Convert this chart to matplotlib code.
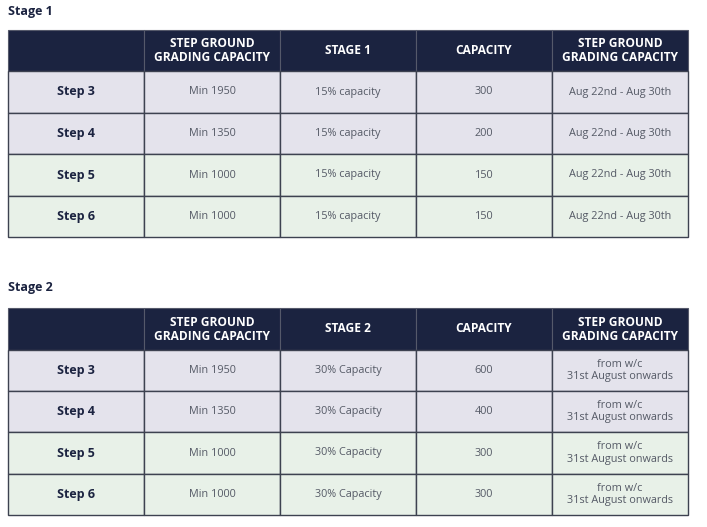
import matplotlib
matplotlib.use("Agg")
import matplotlib.pyplot as plt
from matplotlib.patches import Rectangle

# --- data ---
steps = ["Step 3", "Step 4", "Step 5", "Step 6"]
min_grading = ["Min 1950", "Min 1350", "Min 1000", "Min 1000"]
stage1_pct = ["15% capacity"] * 4
stage1_cap = ["300", "200", "150", "150"]
stage1_dates = ["Aug 22nd - Aug 30th"] * 4
stage2_pct = ["30% Capacity"] * 4
stage2_cap = ["600", "400", "300", "300"]
stage2_dates = ["from w/c\n31st August onwards"] * 4
header1 = ["", "STEP GROUND\nGRADING CAPACITY", "STAGE 1", "CAPACITY", "STEP GROUND\nGRADING CAPACITY"]
header2 = ["", "STEP GROUND\nGRADING CAPACITY", "STAGE 2", "CAPACITY", "STEP GROUND\nGRADING CAPACITY"]

W, H = 707, 527
NAVY = "#1b2340"
ROW_COLS = ["#e4e3ec", "#e4e3ec", "#e8f1e8", "#e8f1e8"]
EDGE = "#3d4250"
col_x = [8, 144, 280, 416, 552, 688]

plt.rcParams["font.family"] = ["Open Sans", "DejaVu Sans"]

fig = plt.figure(figsize=(W / 100, H / 100), dpi=100)
ax = fig.add_axes([0, 0, 1, 1])
ax.set_xlim(0, W)
ax.set_ylim(H, 0)
ax.axis("off")


def draw_table(top, row_h, header, cols):
    # header
    hh = row_h[0]
    for c in range(5):
        x0, x1 = col_x[c], col_x[c + 1]
        ax.add_patch(Rectangle((x0, top), x1 - x0, hh, facecolor=NAVY,
                               edgecolor="#55596a", lw=0.8))
        ax.text((x0 + x1) / 2, top + hh / 2, header[c], color="white",
                ha="center", va="center", fontsize=8.6, fontweight="bold",
                linespacing=1.1)
    y = top + hh
    for r in range(4):
        rh = row_h[r + 1]
        for c in range(5):
            x0, x1 = col_x[c], col_x[c + 1]
            ax.add_patch(Rectangle((x0, y), x1 - x0, rh, facecolor=ROW_COLS[r],
                                   edgecolor=EDGE, lw=1.0))
            bold = c == 0
            ax.text((x0 + x1) / 2, y + rh / 2, cols[c][r],
                    color="#1b2340" if bold else "#555a66",
                    ha="center", va="center",
                    fontsize=9 if bold else 7.8,
                    fontweight="bold" if bold else "normal",
                    linespacing=1.2)
        y += rh


ax.text(8, 12, "Stage 1", fontsize=9, fontweight="bold", color=NAVY,
        ha="left", va="center")
draw_table(30, [41, 42, 41, 42, 41],
           header1, [steps, min_grading, stage1_pct, stage1_cap, stage1_dates])

ax.text(8, 288, "Stage 2", fontsize=9, fontweight="bold", color=NAVY,
        ha="left", va="center")
draw_table(308, [42, 41, 41, 42, 41],
           header2, [steps, min_grading, stage2_pct, stage2_cap, stage2_dates])

fig.savefig("out.png", dpi=100, facecolor="white")
